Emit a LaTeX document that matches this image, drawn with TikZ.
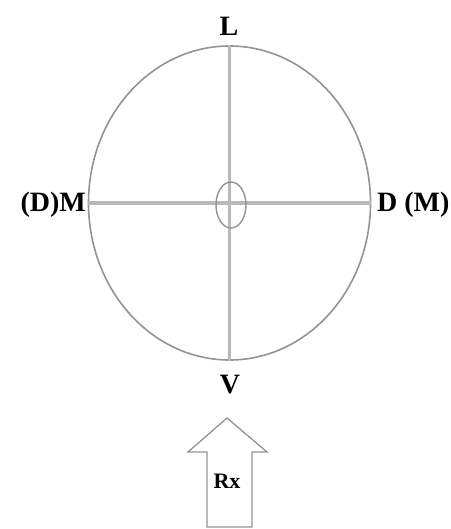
\documentclass[tikz,border=0pt]{standalone}
\usepackage{fontspec}
\setmainfont{Liberation Serif}
\usepackage{tikz}
\usetikzlibrary{positioning,shapes.geometric}

\begin{document}
\begin{tikzpicture}[
  x=1pt, y=-1pt,
  lbl/.style={font=\fontsize{28}{32}\selectfont\bfseries, inner sep=0pt},
  rim/.style={draw=gray!85, line width=1.6pt},
  axis/.style={draw=gray!55, line width=3pt}]
\useasboundingbox (0,0) rectangle (450,529);
% outer ellipse and the two axes
\node[ellipse, rim, minimum width=282pt, minimum height=314pt, inner sep=0pt] (eye) at (229.5,203) {};
\draw[axis] (eye.north) -- (eye.south);
\draw[axis] (eye.west) -- (eye.east);
\node[ellipse, rim, line width=1.4pt, minimum width=30pt, minimum height=46pt, inner sep=0pt] (pupil) at (231,205) {};
% labels
\node[lbl] (top) at (229,26) {L};
\node[lbl, anchor=east] (left) at (86,205) {(D)M};
\node[lbl, anchor=west] (right) at (377,205) {D (M)};
\node[lbl] (bottom) at (230,385) {V};
% block arrow
\draw[draw=gray!85, line width=1.3pt, line join=miter]
  (227,418) -- (267,452) -- (252,452) -- (252,527) -- (207,527)
  -- (207,452) -- (188,452) -- cycle;
\node[lbl, font=\fontsize{22}{26}\selectfont\bfseries] (rx) at (227,481) {Rx};
\end{tikzpicture}
\end{document}
